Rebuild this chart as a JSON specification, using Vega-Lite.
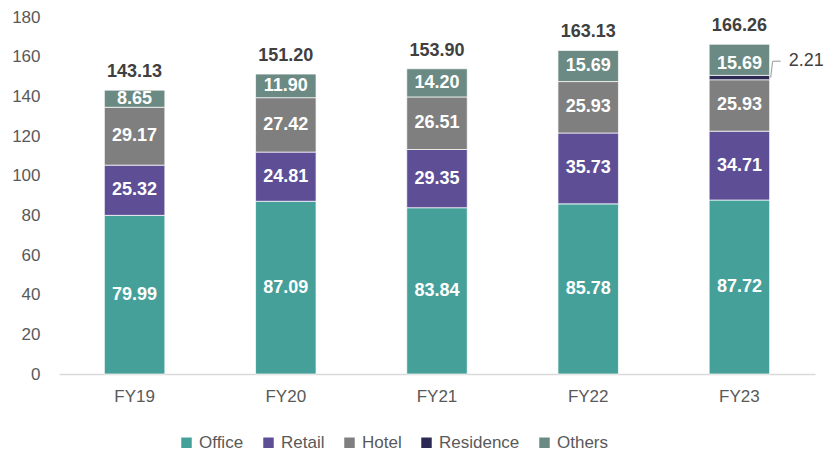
{
  "$schema": "https://vega.github.io/schema/vega-lite/v6.json",
  "width": 756,
  "height": 357,
  "autosize": {"type": "none"},
  "padding": {"left": 59, "top": 17, "right": 12, "bottom": 83},
  "background": "white",
  "config": {
    "font": "Liberation Sans",
    "view": {"stroke": null},
    "axisY": {
      "labelOverlap": false, "labelFontSize": 17, "labelColor": "#595959",
      "grid": false, "domain": false, "ticks": false, "labelPadding": 19, "title": null
    }
  },
  "datasets": {
    "segs": [
      {"year": "FY19", "cat": "Office", "ord": 1, "v": 79.99},
      {"year": "FY19", "cat": "Retail", "ord": 2, "v": 25.32},
      {"year": "FY19", "cat": "Hotel", "ord": 3, "v": 29.17},
      {"year": "FY19", "cat": "Others", "ord": 5, "v": 8.65},
      {"year": "FY20", "cat": "Office", "ord": 1, "v": 87.09},
      {"year": "FY20", "cat": "Retail", "ord": 2, "v": 24.81},
      {"year": "FY20", "cat": "Hotel", "ord": 3, "v": 27.42},
      {"year": "FY20", "cat": "Others", "ord": 5, "v": 11.9},
      {"year": "FY21", "cat": "Office", "ord": 1, "v": 83.84},
      {"year": "FY21", "cat": "Retail", "ord": 2, "v": 29.35},
      {"year": "FY21", "cat": "Hotel", "ord": 3, "v": 26.51},
      {"year": "FY21", "cat": "Others", "ord": 5, "v": 14.2},
      {"year": "FY22", "cat": "Office", "ord": 1, "v": 85.78},
      {"year": "FY22", "cat": "Retail", "ord": 2, "v": 35.73},
      {"year": "FY22", "cat": "Hotel", "ord": 3, "v": 25.93},
      {"year": "FY22", "cat": "Others", "ord": 5, "v": 15.69},
      {"year": "FY23", "cat": "Office", "ord": 1, "v": 87.72},
      {"year": "FY23", "cat": "Retail", "ord": 2, "v": 34.71},
      {"year": "FY23", "cat": "Hotel", "ord": 3, "v": 25.93},
      {"year": "FY23", "cat": "Residence", "ord": 4, "v": 2.21},
      {"year": "FY23", "cat": "Others", "ord": 5, "v": 15.69}
    ],
    "totals": [
      {"year": "FY19", "total": 143.13},
      {"year": "FY20", "total": 151.2},
      {"year": "FY21", "total": 153.9},
      {"year": "FY22", "total": 163.13},
      {"year": "FY23", "total": 166.26}
    ],
    "callout": [
      {"year": "FY23", "y1": 149.5, "y2": 157.7, "label": "2.21"}
    ]
  },
  "layer": [
    {
      "data": {"name": "segs"},
      "mark": {"type": "bar", "stroke": "white", "strokeWidth": 0.7},
      "encoding": {
        "x": {
          "field": "year", "type": "nominal",
          "scale": {"paddingInner": 0.6, "paddingOuter": 0.3},
          "axis": {
            "title": null, "labelAngle": 0, "ticks": false,
            "domainColor": "#D9D9D9", "domainWidth": 1.5,
            "labelFontSize": 17, "labelColor": "#595959", "labelPadding": 14
          }
        },
        "y": {
          "aggregate": "sum", "field": "v", "type": "quantitative", "stack": "zero",
          "scale": {"domain": [0, 180]},
          "axis": {"values": [0,20,40,60,80,100,120,140,160,180], "labelOverlap": false}
        },
        "color": {
          "field": "cat", "type": "nominal",
          "scale": {
            "domain": ["Office", "Retail", "Hotel", "Residence", "Others"],
            "range": ["#45A09A", "#5D4E96", "#7F7F7F", "#2D2955", "#6B8A84"]
          },
          "legend": {
            "title": null, "orient": "none", "direction": "horizontal",
            "legendX": 119, "legendY": 417,
            "symbolType": "square", "symbolSize": 110, "symbolStrokeWidth": 0,
            "labelFontSize": 17, "labelColor": "#595959", "columnPadding": 16,
            "labelOffset": 4
          }
        },
        "order": {"field": "ord", "type": "quantitative"}
      }
    },
    {
      "data": {"name": "segs"},
      "transform": [{"filter": "datum.cat !== 'Residence'"}],
      "mark": {"type": "text", "color": "white", "fontWeight": "bold", "fontSize": 18},
      "encoding": {
        "x": {"field": "year", "type": "nominal"},
        "y": {"aggregate": "sum", "field": "v", "type": "quantitative", "stack": "zero", "bandPosition": 0.5,
              "axis": {"values": [0,20,40,60,80,100,120,140,160,180], "labelOverlap": false}},
        "detail": {"field": "cat"},
        "order": {"field": "ord", "type": "quantitative"},
        "text": {"field": "v", "type": "quantitative", "format": ".2f"}
      }
    },
    {
      "data": {"name": "totals"},
      "mark": {"type": "text", "color": "#404040", "fontWeight": "bold", "fontSize": 18, "baseline": "bottom", "dy": -9},
      "encoding": {
        "x": {"field": "year", "type": "nominal"},
        "y": {"field": "total", "type": "quantitative",
              "axis": {"values": [0,20,40,60,80,100,120,140,160,180], "labelOverlap": false}},
        "text": {"field": "total", "type": "quantitative", "format": ".2f"}
      }
    },
    {
      "data": {"name": "callout"},
      "mark": {"type": "rule", "color": "#A6A6A6", "strokeWidth": 1.2, "xOffset": 1, "x2Offset": 3},
      "encoding": {
        "x": {"field": "year", "type": "nominal", "bandPosition": 1},
        "x2": {"field": "year", "bandPosition": 1},
        "y": {"field": "y1", "type": "quantitative",
              "axis": {"values": [0,20,40,60,80,100,120,140,160,180], "labelOverlap": false}},
        "y2": {"field": "y2"}
      }
    },
    {
      "data": {"name": "callout"},
      "mark": {"type": "rule", "color": "#A6A6A6", "strokeWidth": 1.2, "xOffset": 3, "x2Offset": 11},
      "encoding": {
        "x": {"field": "year", "type": "nominal", "bandPosition": 1},
        "x2": {"field": "year", "bandPosition": 1},
        "y": {"field": "y2", "type": "quantitative",
              "axis": {"values": [0,20,40,60,80,100,120,140,160,180], "labelOverlap": false}}
      }
    },
    {
      "data": {"name": "callout"},
      "mark": {"type": "text", "color": "#404040", "fontSize": 18, "align": "left", "dx": 19},
      "encoding": {
        "x": {"field": "year", "type": "nominal", "bandPosition": 1},
        "y": {"field": "y2", "type": "quantitative",
              "axis": {"values": [0,20,40,60,80,100,120,140,160,180], "labelOverlap": false}},
        "text": {"field": "label"}
      }
    }
  ]
}
